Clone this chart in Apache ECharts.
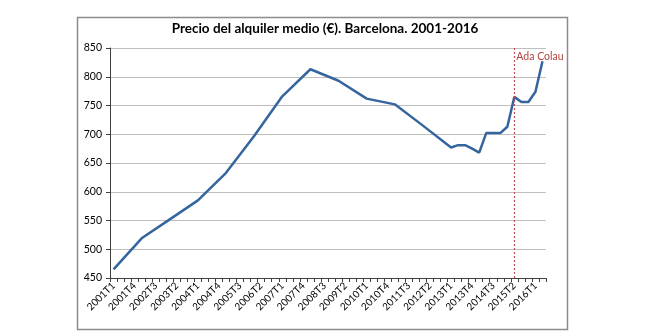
<!DOCTYPE html>
<html>
<head>
<meta charset="utf-8">
<script src="https://cdn.jsdelivr.net/npm/echarts@6/dist/echarts.min.js"></script>
<style>html,body{margin:0;padding:0;background:#fff;}#c{width:650px;height:336px;}</style>
</head>
<body>
<div id="c"></div>
<script>
const categories = [
 '2001T1','2001T2','2001T3','2001T4','2002T1','2002T2','2002T3','2002T4',
 '2003T1','2003T2','2003T3','2003T4','2004T1','2004T2','2004T3','2004T4',
 '2005T1','2005T2','2005T3','2005T4','2006T1','2006T2','2006T3','2006T4',
 '2007T1','2007T2','2007T3','2007T4','2008T1','2008T2','2008T3','2008T4',
 '2009T1','2009T2','2009T3','2009T4','2010T1','2010T2','2010T3','2010T4',
 '2011T1','2011T2','2011T3','2011T4','2012T1','2012T2','2012T3','2012T4',
 '2013T1','2013T2','2013T3','2013T4','2014T1','2014T2','2014T3','2014T4',
 '2015T1','2015T2','2015T3','2015T4','2016T1','2016T2'
];
const rentValues = [
 465,null,null,null,519,null,null,null,
 552,null,null,null,585,null,null,null,
 633,null,null,null,697,null,null,null,
 766,null,null,null,813,null,null,null,
 793,null,null,null,762,null,null,null,
 752,null,null,null,715,null,null,null,
 677,681,681,675,668,702,702,702,
 713,765,756,756,774,827
];
const yTicks = {min:450, max:850, interval:50};
const eventCategory = '2015T2';
const eventLabel = 'Ada Colau';
const titleText = 'Precio del alquiler medio (€). Barcelona. 2001-2016';

const chart = echarts.init(document.getElementById('c'), null, {renderer:'canvas'});
chart.setOption({
  animation:false,
  backgroundColor:'#fff',
  textStyle:{fontFamily:'Lato'},
  graphic:[{type:'rect', left:75, top:15, shape:{width:490, height:312},
    style:{fill:'none', stroke:'#8c8c8c', lineWidth:1.5}, silent:true, z:-1}],
  title:{text:titleText, left:'center', top:17,
    textStyle:{fontFamily:'Lato', fontWeight:'bold', fontSize:13.5, color:'#000'}},
  grid:{left:110, right:104, top:48, bottom:58},
  xAxis:{type:'category', data:categories, boundaryGap:true,
    axisLine:{lineStyle:{color:'#404040', width:1}},
    axisTick:{show:true, interval:0, length:4, lineStyle:{color:'#404040'}},
    axisLabel:{interval:2, rotate:45, fontSize:10, color:'#000', margin:6, fontFamily:'Lato'},
    splitLine:{show:false}},
  yAxis:{type:'value', min:yTicks.min, max:yTicks.max, interval:yTicks.interval,
    axisLine:{show:true, lineStyle:{color:'#404040', width:1}},
    axisTick:{show:true, length:4, lineStyle:{color:'#404040'}},
    axisLabel:{fontSize:10.5, color:'#000', margin:8, fontFamily:'Lato'},
    splitLine:{lineStyle:{color:'#bfbfbf', width:1}}},
  series:[{type:'line', data:rentValues, connectNulls:true, showSymbol:false, symbol:'none',
    lineStyle:{color:'#35659e', width:2.5}, z:3,
    markLine:{silent:true, symbol:['none','none'],
      lineStyle:{color:'#c0504d', type:[2,2], width:1.2, opacity:1},
      label:{show:false},
      data:[[{coord:[eventCategory, yTicks.min]},{coord:[eventCategory, yTicks.max]}]]},
    markPoint:{silent:true, symbol:'circle', symbolSize:0,
      data:[{coord:[eventCategory, yTicks.max]}],
      label:{show:true, formatter:eventLabel, position:'right', distance:2, offset:[0,9],
        color:'#b0403c', fontSize:10.5, fontFamily:'Lato'}}
  }]
});
</script>
</body>
</html>
